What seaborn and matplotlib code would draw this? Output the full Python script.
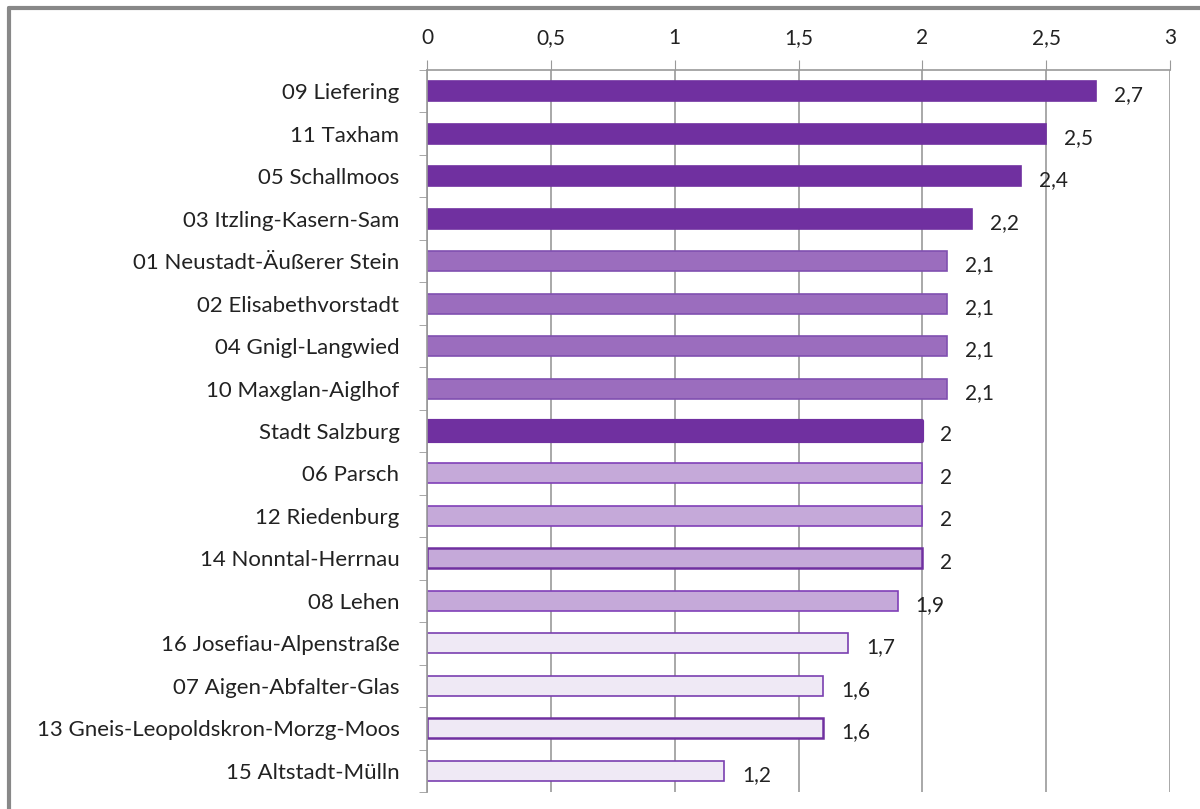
import matplotlib
matplotlib.use("Agg")
import matplotlib.pyplot as plt
import seaborn as sns
import pandas as pd

# Data
districts = [
    "09 Liefering", "11 Taxham", "05 Schallmoos", "03 Itzling-Kasern-Sam",
    "01 Neustadt-Äußerer Stein", "02 Elisabethvorstadt", "04 Gnigl-Langwied",
    "10 Maxglan-Aiglhof", "Stadt Salzburg", "06 Parsch", "12 Riedenburg",
    "14 Nonntal-Herrnau", "08 Lehen", "16 Josefiau-Alpenstraße",
    "07 Aigen-Abfalter-Glas", "13 Gneis-Leopoldskron-Morzg-Moos",
    "15 Altstadt-Mülln",
]
values = [2.7, 2.5, 2.4, 2.2, 2.1, 2.1, 2.1, 2.1, 2.0, 2.0, 2.0, 2.0, 1.9,
          1.7, 1.6, 1.6, 1.2]
# shade class per bar: 0 = dark, 1 = medium, 2 = light, 3 = very light
shade = [0, 0, 0, 0, 1, 1, 1, 1, 0, 2, 2, 2, 2, 3, 3, 3, 3]
x_ticks = [0, 0.5, 1, 1.5, 2, 2.5, 3]

fills = ["#7030A0", "#9B6DBE", "#C5A9D9", "#EFE9F5"]
edges = ["#7030A0", "#8050B0", "#8040B8", "#7A3FB0"]

df = pd.DataFrame({"district": districts, "value": values})

sns.set_style("white")
plt.rcParams["font.family"] = ["Lato", "DejaVu Sans"]

fig = plt.figure(figsize=(12, 8.09), dpi=100)
ax = fig.add_axes([0.356, 0.021, 0.619, 0.8925])

sns.barplot(data=df, y="district", x="value", hue="district",
            palette=[fills[s] for s in shade], legend=False,
            width=0.47, ax=ax, saturation=1)

for i, bar in enumerate(ax.patches):
    s = shade[i]
    bar.set_edgecolor(edges[s])
    bar.set_linewidth(1.2)
    if districts[i] == "Stadt Salzburg":
        bar.set_linewidth(3)
        bar.set_joinstyle("round")
    if districts[i] in ("14 Nonntal-Herrnau", "13 Gneis-Leopoldskron-Morzg-Moos"):
        bar.set_linewidth(1.8)
        bar.set_edgecolor("#7030A0")

for i, v in enumerate(values):
    ax.annotate(f"{v:g}".replace(".", ","), (v, i), xytext=(13, -3),
                textcoords="offset points", va="center", ha="left",
                fontsize=15, color="#222222")

ax.set_xlim(0, 3)
ax.set_ylim(len(districts) - 0.5, -0.5)
ax.set_xticks(x_ticks)
ax.set_xticklabels([f"{t:g}".replace(".", ",") for t in x_ticks])
ax.xaxis.tick_top()
ax.tick_params(axis="x", which="major", length=7, color="#999999",
               labelsize=15, pad=9, top=True, bottom=False,
               labelcolor="#222222")
ax.grid(axis="x", color="#999999", linewidth=1.2)
ax.set_axisbelow(True)

# category ticks between rows, labels centered on rows
ax.set_yticks([i - 0.5 for i in range(len(districts) + 1)], minor=True)
ax.tick_params(axis="y", which="minor", length=6, color="#999999", left=True)
ax.tick_params(axis="y", which="major", length=0, labelsize=16, pad=20,
               labelcolor="#222222")
ax.set_xlabel("")
ax.set_ylabel("")

for side in ["right", "bottom"]:
    ax.spines[side].set_visible(False)
ax.spines["left"].set_color("#999999")
ax.spines["top"].set_color("#999999")
ax.spines["left"].set_linewidth(1.2)
ax.spines["top"].set_linewidth(1.2)

# thin grey frame at top and left of the picture
fig.add_artist(plt.Line2D([0.0075, 1.0], [0.99, 0.99], color="#888888",
                          linewidth=3, transform=fig.transFigure))
fig.add_artist(plt.Line2D([0.0075, 0.0075], [0.0, 0.99], color="#888888",
                          linewidth=3, transform=fig.transFigure))

fig.savefig("out.png", dpi=100)
